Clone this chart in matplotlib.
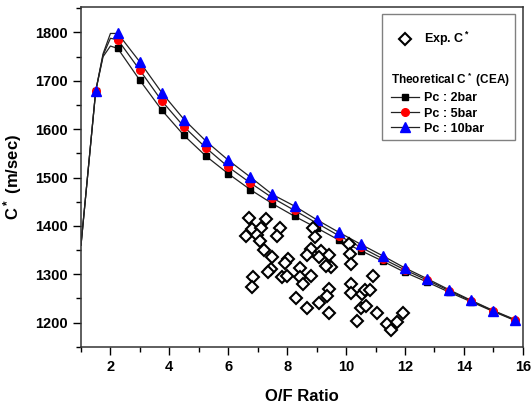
import matplotlib
matplotlib.use("Agg")
import matplotlib.pyplot as plt
from matplotlib.lines import Line2D
from matplotlib.patches import Rectangle
from matplotlib.ticker import MultipleLocator

plt.rcParams["font.family"] = ["Liberation Sans", "DejaVu Sans"]
plt.rcParams["font.weight"] = "bold"
plt.rcParams["mathtext.fontset"] = "custom"
plt.rcParams["mathtext.rm"] = "Liberation Sans:bold"
plt.rcParams["mathtext.bf"] = "Liberation Sans:bold"
plt.rcParams["mathtext.default"] = "bf"

# theoretical C* (CEA), marker points
of_cea = [1.5, 2.25, 3.0, 3.75, 4.5, 5.25, 6.0, 6.75, 7.5, 8.25, 9.0, 9.75,
          10.5, 11.25, 12.0, 12.75, 13.5, 14.25, 15.0, 15.75]
c_2bar = [1679, 1767, 1701, 1639, 1587, 1544, 1508, 1475, 1446, 1420, 1396, 1371,
          1349, 1327, 1304, 1284, 1263, 1243, 1223, 1204]
c_5bar = [1679, 1785, 1722, 1658, 1605, 1561, 1522, 1489, 1458, 1432, 1406, 1380,
          1356, 1332, 1309, 1288, 1266, 1245, 1224, 1205]
c_10bar = [1679, 1798, 1739, 1675, 1620, 1575, 1536, 1501, 1465, 1441, 1413, 1387,
           1362, 1338, 1313, 1291, 1268, 1246, 1225, 1206]

# extra points of the CEA curves near stoichiometric peak (no markers)
of_head = [1.0, 1.5, 1.75, 2.0]
head_2bar = [1360, 1679, 1750, 1772]
head_5bar = [1360, 1679, 1753, 1788]
head_10bar = [1360, 1679, 1756, 1798]

# experimental C*
of_exp = [6.70, 7.28, 6.79, 7.11, 6.59, 6.99, 7.75, 7.67, 7.07, 7.22,
          7.47, 8.03, 7.94, 7.45, 7.36, 7.81, 7.98, 6.85, 6.79, 8.30,
          8.42, 8.42, 8.55, 8.81, 8.87, 8.93, 8.81, 9.15, 8.67, 9.07,
          9.43, 9.49, 9.32, 10.11, 10.14, 10.17, 9.43, 9.35, 9.07, 8.67,
          9.43, 10.17, 10.17, 10.38, 10.93, 10.55, 10.63, 10.83, 10.52, 10.67,
          11.05, 11.40, 11.52, 11.74, 11.94]
c_exp = [1416, 1415, 1393, 1395, 1379, 1382, 1395, 1379, 1368, 1351,
         1335, 1331, 1324, 1310, 1304, 1294, 1296, 1294, 1273, 1251,
         1312, 1294, 1280, 1296, 1395, 1377, 1353, 1349, 1339, 1335,
         1339, 1315, 1317, 1363, 1341, 1322, 1270, 1256, 1241, 1230,
         1220, 1280, 1262, 1204, 1296, 1260, 1268, 1267, 1230, 1235,
         1220, 1197, 1184, 1201, 1220]

fig = plt.figure(figsize=(5.31, 4.08), dpi=100)
ax = fig.add_axes([0.1525, 0.150, 0.832, 0.832])

line_kw = dict(color="#222222", lw=0.9, zorder=2)
series = [
    (head_2bar, c_2bar, "s", "black", 5.0, "Pc : 2bar"),
    (head_5bar, c_5bar, "o", "red", 5.5, "Pc : 5bar"),
    (head_10bar, c_10bar, "^", "blue", 6.5, "Pc : 10bar"),
]
handles = []
for head, vals, mk, col, ms, lab in series:
    ax.plot(of_head + of_cea[1:], head + vals[1:], **line_kw)
    ax.plot(of_cea, vals, linestyle="none", marker=mk, color=col, ms=ms,
            mec=col, zorder=3)
    handles.append(Line2D([], [], color="#222222", lw=0.9, marker=mk,
                          mfc=col, mec=col, ms=ms, label=lab))

ax.plot(of_exp, c_exp, linestyle="none", marker="D", ms=5.8, mfc="white",
        mec="black", mew=1.5, zorder=4)

ax.set_xlim(1, 16)
ax.set_ylim(1150, 1852)
ax.xaxis.set_major_locator(MultipleLocator(2))
ax.xaxis.set_minor_locator(MultipleLocator(1))
ax.yaxis.set_major_locator(MultipleLocator(100))
ax.yaxis.set_minor_locator(MultipleLocator(50))
ax.tick_params(which="both", direction="out", top=False, right=False,
               width=1.0, labelsize=10.5)
ax.tick_params(which="major", length=6)
ax.tick_params(which="minor", length=3.5)
for s in ax.spines.values():
    s.set_linewidth(1.1)
    s.set_color("#333333")

ax.set_xlabel("O/F Ratio", fontsize=12, fontweight="bold", labelpad=11)
ax.set_ylabel(r"C$^*$ (m/sec)", fontsize=12, fontweight="bold", labelpad=8)

# legend frame and contents
ax.add_patch(Rectangle((0.681, 0.609), 0.3016, 0.370, transform=ax.transAxes,
                       facecolor="white", edgecolor="#808080", lw=1.0, zorder=5))
exp_handle = Line2D([], [], linestyle="none", marker="D", ms=5.8, mfc="white",
                    mec="black", mew=1.5, label=r"Exp. C$^*$")
leg1 = ax.legend(handles=[exp_handle], loc="center left",
                 bbox_to_anchor=(0.7018, 0.906), frameon=False, borderpad=0,
                 borderaxespad=0, handlelength=2.2, handletextpad=0.45,
                 prop=dict(size=9, weight="bold"))
leg1.set_zorder(6)
ax.add_artist(leg1)
leg2 = ax.legend(handles=handles, loc="upper left",
                 bbox_to_anchor=(0.7018, 0.812), frameon=False, borderpad=0,
                 borderaxespad=0, handlelength=2.2, handletextpad=0.45,
                 labelspacing=0.25, title=r"Theoretical C$^*$ (CEA)",
                 title_fontproperties=dict(size=8.5, weight="bold"),
                 alignment="left", prop=dict(size=9, weight="bold"))
leg2.set_zorder(6)

fig.savefig("out.png", dpi=100)
